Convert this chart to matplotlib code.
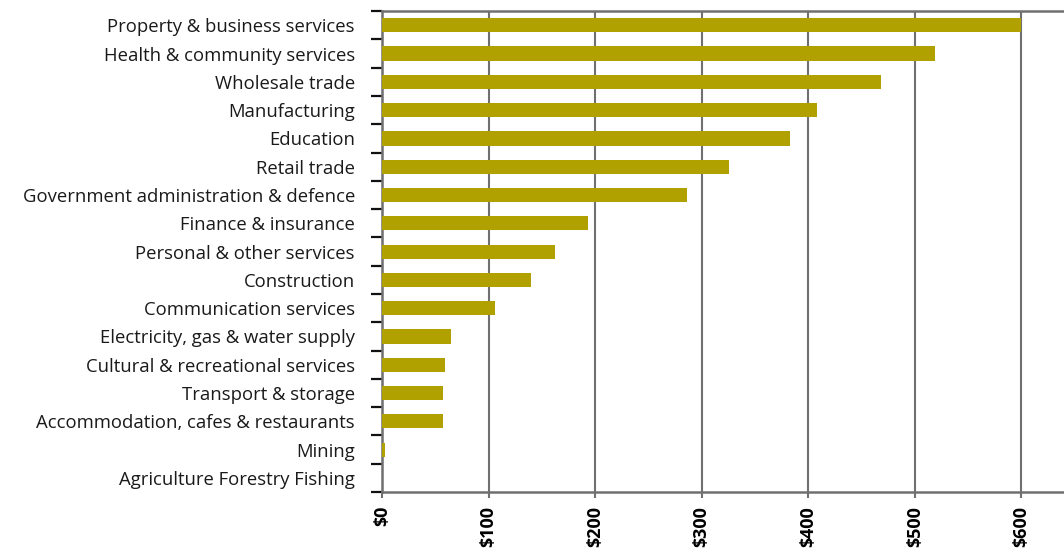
import numpy as np
import matplotlib
matplotlib.use("Agg")
import matplotlib.pyplot as plt
from matplotlib.ticker import FixedLocator

industries = [
    "Property & business services",
    "Health & community services",
    "Wholesale trade",
    "Manufacturing",
    "Education",
    "Retail trade",
    "Government administration & defence",
    "Finance & insurance",
    "Personal & other services",
    "Construction",
    "Communication services",
    "Electricity, gas & water supply",
    "Cultural & recreational services",
    "Transport & storage",
    "Accommodation, cafes & restaurants",
    "Mining",
    "Agriculture Forestry Fishing",
]
spend = [600, 519, 468, 408, 383, 326, 286, 193, 162, 140, 106, 65, 59, 57, 57, 3, 0]
xticks = [0, 100, 200, 300, 400, 500, 600]
xlabels = ["$0", "$100", "$200", "$300", "$400", "$500", "$600"]

plt.rcParams["font.family"] = ["Open Sans", "DejaVu Sans"]

fig = plt.figure(figsize=(10.64, 5.56), dpi=100)
ax = fig.add_axes([0.359, 0.115, 0.641, 0.865])

y = np.arange(len(industries))
ax.barh(y, spend, height=0.5, color="#b0a000", zorder=3)

ax.set_ylim(len(industries) - 0.5, -0.5)
ax.set_xlim(0, 640)

ax.set_yticks(y)
ax.set_yticklabels(industries, fontsize=13.3, color="#1a1a1a")
ax.tick_params(axis="y", which="major", length=0, pad=19.5)
ax.yaxis.set_minor_locator(FixedLocator(np.arange(-0.5, len(industries), 1.0)))
ax.tick_params(axis="y", which="minor", length=8, width=1.6, color="#111111")

ax.set_xticks(xticks)
ax.set_xticklabels(xlabels, rotation=90, fontsize=13, fontweight="bold")
ax.tick_params(axis="x", length=4, width=1.5, color="#707070", pad=6)

ax.grid(axis="x", color="#707070", linewidth=1.5, zorder=0)
for side in ["left", "bottom", "top"]:
    ax.spines[side].set_color("#707070")
    ax.spines[side].set_linewidth(1.8)
ax.spines["right"].set_visible(False)

fig.savefig("out.png", dpi=100)
